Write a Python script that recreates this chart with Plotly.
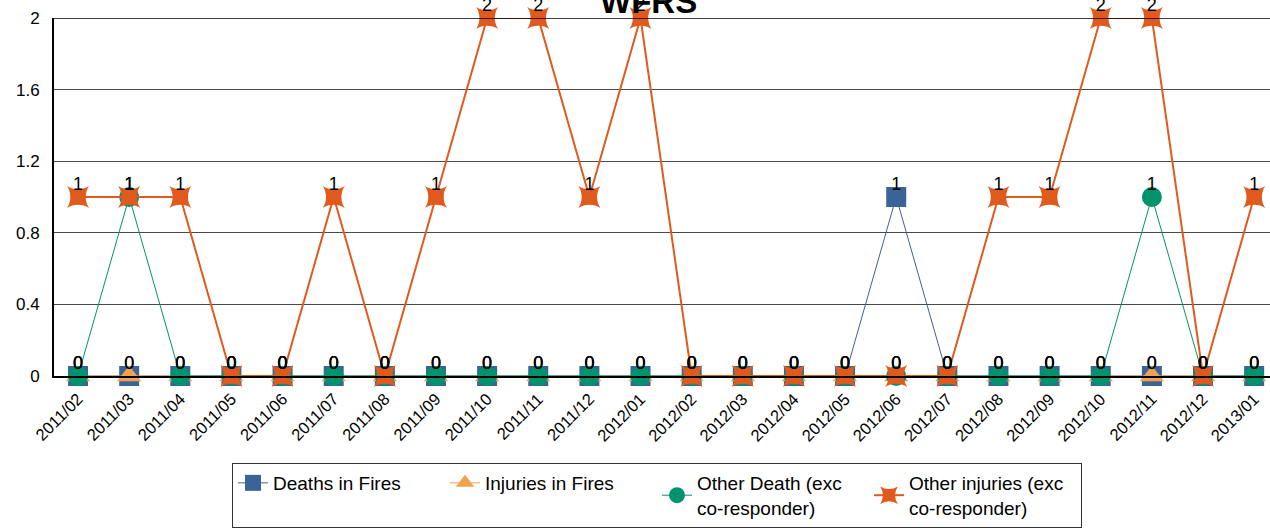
import plotly.graph_objects as go

months = ["2011/02", "2011/03", "2011/04", "2011/05", "2011/06", "2011/07", "2011/08", "2011/09",
          "2011/10", "2011/11", "2011/12", "2012/01", "2012/02", "2012/03", "2012/04", "2012/05",
          "2012/06", "2012/07", "2012/08", "2012/09", "2012/10", "2012/11", "2012/12", "2013/01"]

deaths_in_fires = [0, 0, 0, 0, 0, 0, 0, 0, 0, 0, 0, 0, 0, 0, 0, 0, 1, 0, 0, 0, 0, 0, 0, 0]
injuries_in_fires = [0, 0, 0, 0, 0, 0, 0, 0, 0, 0, 0, 0, 0, 0, 0, 0, 0, 0, 0, 0, 0, 0, 0, 0]
other_death = [0, 1, 0, 0, 0, 0, 0, 0, 0, 0, 0, 0, 0, 0, 0, 0, 0, 0, 0, 0, 0, 1, 0, 0]
other_injuries = [1, 1, 1, 0, 0, 1, 0, 1, 2, 2, 1, 2, 0, 0, 0, 0, 0, 0, 1, 1, 2, 2, 0, 1]

series = [
    ("Deaths in Fires", deaths_in_fires, "#3A6497", "square", 20, 1),
    ("Injuries in Fires", injuries_in_fires, "#F0A24E", "triangle-up", 21, 1),
    ("Other Death (exc<br>co-responder)", other_death, "#00936E", "circle", 20, 1),
    ("Other injuries (exc<br>co-responder)", other_injuries, "#E05A1E", "star-square", 20, 2),
]

W, H = 1270, 531
L, T, B = 54, 18, 155
PW, PH = W - L, H - T - B

fig = go.Figure()
for name, vals, color, sym, size, lw in series:
    fig.add_trace(go.Scatter(
        x=months, y=vals, name=name, mode="lines+markers",
        line=dict(color=color, width=lw),
        marker=dict(symbol=sym, size=size, color=color, line=dict(width=0)),
        cliponaxis=False,
    ))
# data labels
for name, vals, color, sym, size, lw in series:
    fig.add_trace(go.Scatter(
        x=months, y=vals, mode="markers+text", showlegend=False, hoverinfo="skip",
        text=[str(v) for v in vals], textposition="top center",
        textfont=dict(size=18, color="black", family="Liberation Sans"),
        marker=dict(size=2, opacity=0),
        cliponaxis=False,
    ))

fig.update_layout(
    width=W, height=H,
    margin=dict(l=L, r=0, t=T, b=B, pad=0, autoexpand=False),
    plot_bgcolor="white", paper_bgcolor="white",
    font=dict(family="Liberation Sans", size=16, color="black"),
    showlegend=True,
    legend=dict(
        orientation="h", x=(232 - L) / PW, y=-(463 - 376) / PH, xanchor="left", yanchor="top",
        bordercolor="#333333", borderwidth=1, font=dict(size=19),
        entrywidth=167, entrywidthmode="pixels", valign="middle",
    ),
    xaxis=dict(
        type="category", range=[-0.47, 23.31], tickangle=-45, automargin=False,
        showgrid=False, showline=True, linecolor="black", linewidth=2,
        tickfont=dict(size=16.5), ticks="", ticklabelstandoff=5,
    ),
    yaxis=dict(
        range=[0, 2], tickvals=[0, 0.4, 0.8, 1.2, 1.6, 2], automargin=False,
        ticktext=["0", "0.4", "0.8", "1.2", "1.6", "2"],
        showgrid=True, gridcolor="#4a4a4a", gridwidth=1, zeroline=False,
        showline=True, linecolor="black", linewidth=2,
        tickfont=dict(size=17), ticks="", ticklabelstandoff=9,
    ),
    shapes=[dict(type="line", xref="paper", yref="y", x0=0, x1=1, y0=2, y1=2,
                 line=dict(color="black", width=1.5))],
    annotations=[dict(text="<b>WFRS</b>", xref="paper", yref="paper", x=(648 - L) / PW,
                      y=(376 - 1) / PH, xanchor="center", yanchor="middle",
                      showarrow=False, font=dict(size=33, color="black"))],
)

fig.write_html("out.html", config={"displayModeBar": False},
               post_script="document.body.style.margin='0';")
